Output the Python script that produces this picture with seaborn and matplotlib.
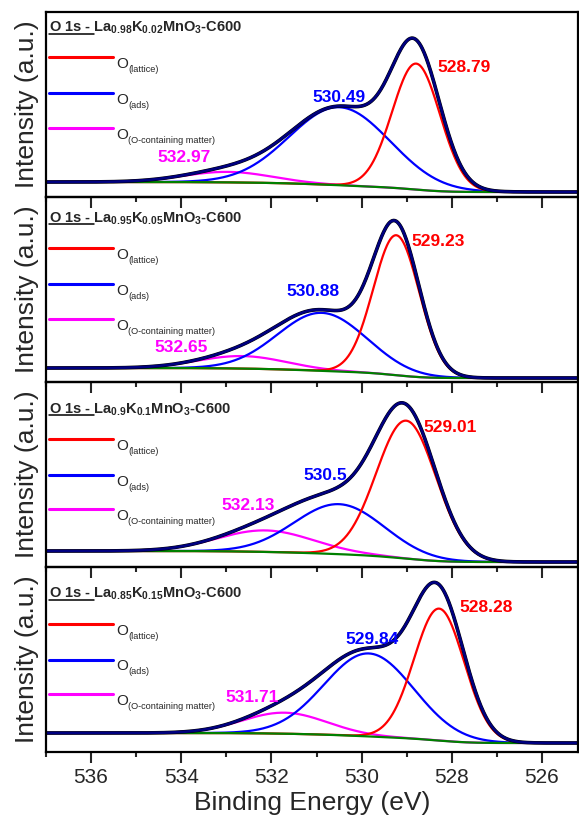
import numpy as np
import matplotlib
matplotlib.use("Agg")
import matplotlib.pyplot as plt
import seaborn as sns

# ---- values (O 1s peak fits, intensity in a.u.) ----
titles = [
    r"O 1s - La$_{\mathbf{0.98}}$K$_{\mathbf{0.02}}$MnO$_{\mathbf{3}}$-C600",
    r"O 1s - La$_{\mathbf{0.95}}$K$_{\mathbf{0.05}}$MnO$_{\mathbf{3}}$-C600",
    r"O 1s - La$_{\mathbf{0.9}}$K$_{\mathbf{0.1}}$MnO$_{\mathbf{3}}$-C600",
    r"O 1s - La$_{\mathbf{0.85}}$K$_{\mathbf{0.15}}$MnO$_{\mathbf{3}}$-C600",
]
component_names = ["(lattice)", "(ads)", "(O-containing matter)"]

lattice_center = [528.79, 529.23, 529.01, 528.28]
lattice_height = [126, 140, 138, 132]
lattice_fwhm = [1.25, 1.2, 1.56, 1.31]

ads_center = [530.49, 530.88, 530.50, 529.84]
ads_height = [78, 58, 50, 83]
ads_fwhm = [2.6, 2.3, 2.33, 2.33]

other_center = [532.97, 532.65, 532.13, 531.71]
other_height = [10.5, 12.5, 21.5, 21]
other_fwhm = [2.3, 2.3, 2.5, 2.2]

bg_high = [15, 14, 16, 19]
bg_low = [5, 4, 5, 9]

x_ticks = [536, 534, 532, 530, 528, 526]

# ---- layout (pixels of the 579x823 picture) ----
AX_L, AX_R, AX_T, AX_B = 46, 578, 12, 752
PANEL_H = (AX_B - AX_T) / 4
head_offset = [14.7, 20.6, 26.3, 26.0]
label_pos = [  # (eV of left edge, px above panel bottom) for red, blue, magenta labels
    [(528.31, 129), (531.09, 100), (534.53, 40)],
    [(528.89, 141), (531.67, 90), (534.60, 34)],
    [(528.62, 140), (531.29, 92), (533.11, 62)],
    [(527.84, 145), (530.36, 113), (533.02, 55)],
]
colors = ["#ff0000", "#0000ff", "#ff00ff"]

sns.set_theme(style="ticks")
plt.rcParams["font.family"] = ["Liberation Sans", "DejaVu Sans"]
plt.rcParams["mathtext.fontset"] = "custom"
plt.rcParams["mathtext.rm"] = "Liberation Sans"
plt.rcParams["mathtext.bf"] = "Liberation Sans:bold"
plt.rcParams["mathtext.it"] = "Liberation Sans:italic"

fig, axes = plt.subplots(4, 1, figsize=(5.79, 8.23), dpi=100, sharex=True)
fig.subplots_adjust(left=AX_L / 579, right=AX_R / 579,
                    top=1 - AX_T / 823, bottom=1 - AX_B / 823, hspace=0)

x = np.linspace(537, 525.2, 800)


def gauss(c, h, fwhm):
    s = fwhm / 2.3548
    return h * np.exp(-0.5 * ((x - c) / s) ** 2)


def axpt(px, rel):
    return (px - AX_L) / (AX_R - AX_L), 1 - rel / PANEL_H


for i, ax in enumerate(axes):
    peaks = [gauss(lattice_center[i], lattice_height[i], lattice_fwhm[i]),
             gauss(ads_center[i], ads_height[i], ads_fwhm[i]),
             gauss(other_center[i], other_height[i], other_fwhm[i])]
    total = peaks[0] + peaks[1] + peaks[2]
    # Shirley-type background: grows with the peak area on the low-BE side
    cum = np.cumsum(total[::-1])[::-1]
    cum = cum[0] - cum
    cum = 1 - cum / cum[-1]
    bg = bg_low[i] + (bg_high[i] - bg_low[i]) * cum

    ax.patch.set_alpha(0)
    for p, c in zip(peaks[::-1], colors[::-1]):
        sns.lineplot(x=x, y=p + bg, color=c, lw=1.6, ax=ax, sort=False)
    sns.lineplot(x=x, y=bg, color="#008000", lw=1.6, ax=ax, sort=False)
    sns.lineplot(x=x, y=total + bg, color="black", lw=2.6, ax=ax, sort=False)
    sns.lineplot(x=x, y=total + bg, color="#000080", lw=1.9, ax=ax, sort=False)

    ax.set_xlim(537, 525.2)
    ax.set_ylim(0, PANEL_H)
    ax.set_yticks([])
    ax.set_xticks(x_ticks)
    ax.set_xticks(np.arange(537, 525, -1), minor=True)
    ax.tick_params(axis="x", which="major", direction="out", length=7.7,
                   width=1.5, labelsize=15, pad=4, top=False)
    ax.tick_params(axis="x", which="minor", direction="out", length=3.8,
                   width=1.5, top=False)
    for sp in ax.spines.values():
        sp.set_linewidth(1.6)
        sp.set_color("black")
    ax.set_ylabel("Intensity (a.u.)", fontsize=19)
    ax.yaxis.set_label_coords(-0.014, 0.5)

    # header with underlined "O 1s -"
    h = head_offset[i]
    ax.text(*axpt(49, h + 5), titles[i], transform=ax.transAxes,
            fontsize=10.5, fontweight="bold", va="baseline", ha="left")
    ax.plot(*zip(axpt(49, h + 6.8), axpt(94, h + 6.8)), transform=ax.transAxes,
            color="black", lw=1.1)

    # legend rows
    for k, (name, c) in enumerate(zip(component_names, colors)):
        yl = h + [30.7, 66.5, 101.0][k]
        ax.plot(*zip(axpt(49, yl), axpt(113, yl)), transform=ax.transAxes,
                color=c, lw=2.2)
        ax.text(*axpt(116, yl + 11), "O", transform=ax.transAxes,
                fontsize=11, va="baseline", ha="left")
        ax.text(*axpt(128, yl + 15), name, transform=ax.transAxes,
                fontsize=6.6, va="baseline", ha="left")

    # peak position labels
    centers = [lattice_center[i], ads_center[i], other_center[i]]
    for (lx, ly), cval, c in zip(label_pos[i], centers, colors):
        ax.text(lx, ly, f"{cval:g}", color=c, fontsize=12.5,
                fontweight="bold", ha="left", va="center")

axes[-1].set_xlabel("Binding Energy (eV)", fontsize=19, labelpad=3)

fig.savefig("out.png", dpi=100, facecolor="white")
